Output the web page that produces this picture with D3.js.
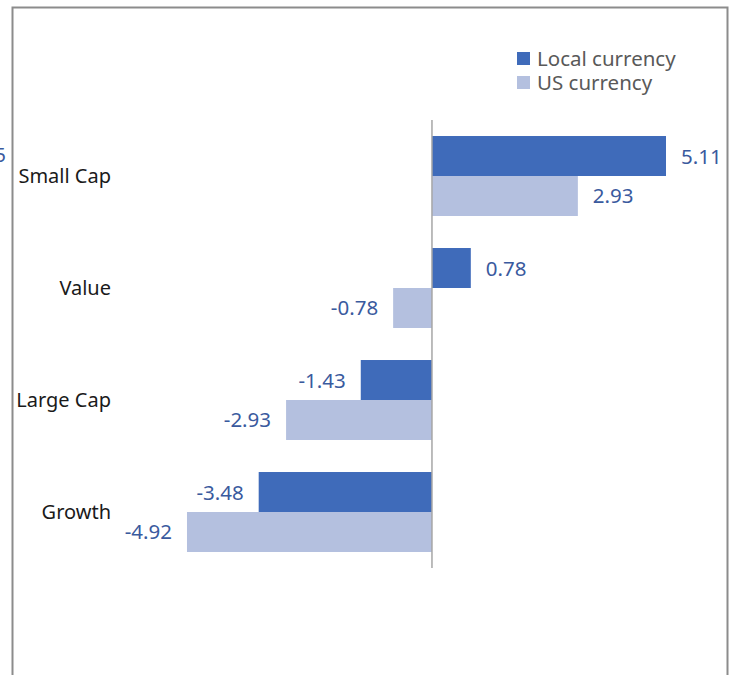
<!DOCTYPE html>
<html>
<head>
<meta charset="utf-8">
<script src="https://cdn.jsdelivr.net/npm/d3@7"></script>
<style>
  body { margin: 0; background: #fff; }
  text { font-family: "Noto Sans", "Open Sans", sans-serif; }
</style>
</head>
<body>
<div id="chart"></div>
<script>
// categories top to bottom
var categories = ["Small Cap", "Value", "Large Cap", "Growth"];
var seriesNames = ["Local currency", "US currency"];
var localValues = [5.11, 0.78, -1.43, -3.48];
var usValues = [2.93, -0.78, -2.93, -4.92];
var colors = ["#3f6bba", "#b4c0df"];

var W = 735, H = 675;

var svg = d3.select("#chart").append("svg")
    .attr("width", W)
    .attr("height", H);

// outer frame (bottom runs off the picture)
svg.append("path")
    .attr("d", "M12.5," + H + "V7.5H727.5V" + H)
    .style("fill", "none")
    .style("stroke", "#8c8c8c")
    .style("stroke-width", 2);

// stray clipped label at the far left edge
svg.append("text")
    .attr("x", 6)
    .attr("y", 162)
    .attr("text-anchor", "end")
    .style("fill", "#3a5a9e")
    .style("font-size", "20px")
    .text("5");

// axis ends at 4.7, so the largest bar is clipped
var x = d3.scaleLinear()
    .domain([-5, 4.7])
    .range([183, 666])
    .clamp(true);

var y = d3.scaleBand()
    .domain(categories)
    .range([120, 568])
    .paddingInner(0.286)
    .paddingOuter(0.143);

var sub = d3.scaleBand()
    .domain(seriesNames)
    .range([0, y.bandwidth()]);

var rows = categories.map(function(c, i) {
  return [
    {cat: c, s: seriesNames[0], v: localValues[i], col: colors[0]},
    {cat: c, s: seriesNames[1], v: usValues[i], col: colors[1]}
  ];
});
var flat = [].concat.apply([], rows);

svg.selectAll("rect.bar").data(flat).enter()
  .append("rect")
    .attr("class", "bar")
    .style("fill", function(d) { return d.col; })
    .attr("x", function(d) { return Math.min(x(0), x(d.v)); })
    .attr("width", function(d) { return Math.abs(x(d.v) - x(0)); })
    .attr("y", function(d) { return y(d.cat) + sub(d.s); })
    .attr("height", sub.bandwidth());

svg.selectAll("text.val").data(flat).enter()
  .append("text")
    .attr("class", "val")
    .attr("x", function(d) { return d.v >= 0 ? x(d.v) + 15 : x(d.v) - 15; })
    .attr("y", function(d) { return y(d.cat) + sub(d.s) + sub.bandwidth() / 2 + 7.5; })
    .attr("text-anchor", function(d) { return d.v >= 0 ? "start" : "end"; })
    .style("fill", "#3a5a9e")
    .style("font-size", "20.5px")
    .text(function(d) { return d.v.toFixed(2); });

// zero line
svg.append("line")
    .attr("x1", x(0)).attr("x2", x(0))
    .attr("y1", y.range()[0]).attr("y2", y.range()[1])
    .style("stroke", "#a6a6a6")
    .style("stroke-width", 1.5);

// category labels
svg.selectAll("text.cat").data(categories).enter()
  .append("text")
    .attr("class", "cat")
    .attr("x", 111)
    .attr("y", function(d) { return y(d) + y.bandwidth() / 2 + 7; })
    .attr("text-anchor", "end")
    .style("fill", "#1a1a1a")
    .style("font-size", "20px")
    .text(function(d) { return d; });

// legend
var leg = svg.selectAll("g.leg").data(seriesNames).enter()
  .append("g")
    .attr("class", "leg")
    .attr("transform", function(d, i) { return "translate(517," + (52 + 24 * i) + ")"; });

leg.append("rect")
    .attr("width", 13)
    .attr("height", 13)
    .style("fill", function(d, i) { return colors[i]; });

leg.append("text")
    .attr("x", 20)
    .attr("y", 13.5)
    .style("fill", "#595959")
    .style("font-size", "20.5px")
    .text(function(d) { return d; });
</script>
</body>
</html>
